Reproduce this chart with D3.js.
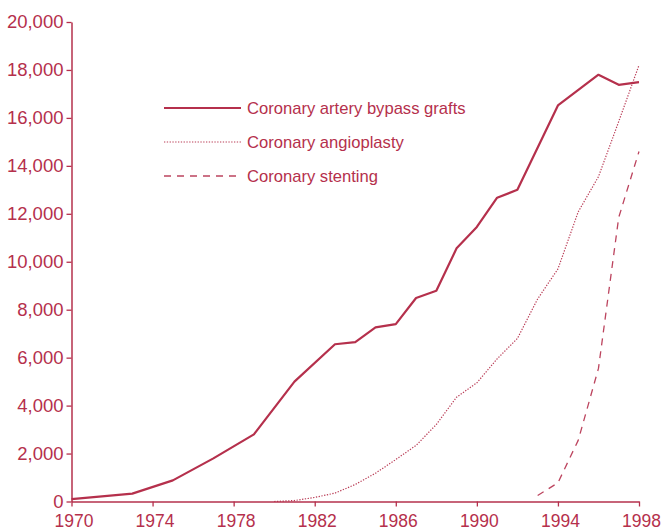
<!DOCTYPE html>
<html>
<head>
<meta charset="utf-8">
<script src="https://cdn.jsdelivr.net/npm/d3@7"></script>
<style>
  html, body { margin: 0; padding: 0; background: #fff; }
  svg text { font-family: "Liberation Sans", Arial, sans-serif; fill: #b5304c; }
</style>
</head>
<body>
<svg id="chart" width="664" height="532"></svg>
<script>
// Coronary procedures per year
const years = [1970, 1973, 1975, 1977, 1979, 1981, 1983, 1984, 1985, 1986, 1987, 1988, 1989, 1990, 1991, 1992, 1994, 1996, 1997, 1998];
const bypassGrafts = [100, 330, 880, 1800, 2800, 5000, 6560, 6650, 7260, 7400, 8490, 8790, 10560, 11450, 12670, 13000, 16520, 17800, 17380, 17490];

const angioYears = [1980, 1981, 1982, 1983, 1984, 1985, 1986, 1987, 1988, 1989, 1990, 1991, 1992, 1993, 1994, 1995, 1996, 1997, 1998];
const angioplasty = [0, 40, 170, 350, 710, 1180, 1750, 2340, 3210, 4350, 4950, 5950, 6800, 8450, 9700, 12080, 13550, 15850, 18200];

const stentYears = [1993, 1994, 1995, 1996, 1997, 1998];
const stenting = [250, 780, 2550, 5550, 11850, 14600];

const xTicks = [1970, 1974, 1978, 1982, 1986, 1990, 1994, 1998];
const yTicks = [0, 2000, 4000, 6000, 8000, 10000, 12000, 14000, 16000, 18000, 20000];

const seriesNames = ["Coronary artery bypass grafts", "Coronary angioplasty", "Coronary stenting"];

const color = "#b5304c";
const svg = d3.select("#chart");

const x = d3.scaleLinear().domain([1970, 1998]).range([71.5, 639]);
const y = d3.scaleLinear().domain([0, 20000]).range([501.5, 22]);

// Axes
const xAxis = svg.append("g")
  .attr("transform", `translate(0,${y(0)})`)
  .call(d3.axisBottom(x).tickValues(xTicks).tickFormat(d3.format("d")).tickSize(5).tickSizeOuter(0).tickPadding(8));
const yAxis = svg.append("g")
  .attr("transform", `translate(${x(1970)},0)`)
  .call(d3.axisLeft(y).tickValues(yTicks).tickFormat(d3.format(",")).tickSize(5).tickSizeOuter(0).tickPadding(3));

[xAxis, yAxis].forEach(g => {
  g.select(".domain").attr("stroke", color).attr("stroke-width", 1.5);
  g.selectAll(".tick line").attr("stroke", color).attr("stroke-width", 1.3);
});
xAxis.selectAll(".tick text").attr("font-size", 17.5).attr("dy", "0.71em").attr("dx", 2);
yAxis.selectAll(".tick text").attr("font-size", 18.5);
svg.selectAll(".tick text").attr("fill", color);

// Lines
const line = (xs) => d3.line().x((d, i) => x(xs[i])).y(d => y(d));

const styles = [
  { width: 2.2, dash: null, opacity: 1 },
  { width: 1.2, dash: "1.3,1.5", opacity: 0.95 },
  { width: 1.3, dash: "7,6", opacity: 0.9 }
];

const series = [
  { xs: years, vs: bypassGrafts },
  { xs: angioYears, vs: angioplasty },
  { xs: stentYears, vs: stenting }
];

series.forEach((s, i) => {
  svg.append("path")
    .datum(s.vs)
    .attr("d", line(s.xs))
    .attr("fill", "none")
    .attr("stroke", color)
    .attr("stroke-width", styles[i].width)
    .attr("stroke-opacity", styles[i].opacity)
    .attr("stroke-dasharray", styles[i].dash)
    .attr("stroke-linejoin", "round");
});

// Legend
const legend = svg.append("g").attr("transform", "translate(164,108)");
seriesNames.forEach((name, i) => {
  const row = legend.append("g").attr("transform", `translate(0,${i * 34})`);
  row.append("line")
    .attr("x1", 0).attr("x2", 77)
    .attr("stroke", color)
    .attr("stroke-width", styles[i].width)
    .attr("stroke-opacity", styles[i].opacity)
    .attr("stroke-dasharray", styles[i].dash);
  row.append("text")
    .attr("x", 83).attr("y", 0).attr("dy", "0.36em")
    .attr("font-size", 16.6)
    .text(name);
});
</script>
</body>
</html>
